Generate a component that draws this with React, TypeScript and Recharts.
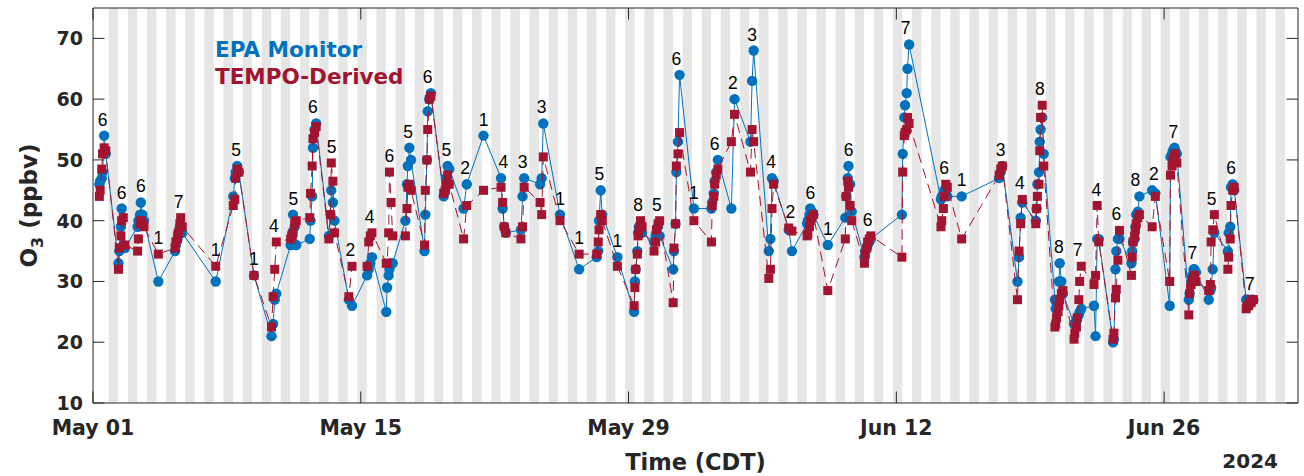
import React from "react";
import { ComposedChart, Scatter, XAxis, YAxis, ReferenceArea, ReferenceLine } from "recharts";

const BLUE = "#0072BD";
const RED = "#A2142F";
const INK = "#262626";
const BOLD_FONT = "'DejaVu Sans', Verdana, sans-serif";
const PLAIN_FONT = "'Liberation Sans', Arial, sans-serif";

// days since May 01 2024 00:00 CDT that have paired observations
const obsDays = [
  0, 1, 2, 3, 4, 6, 7, 8, 9, 10, 11, 12, 13, 14, 15, 16, 17, 18, 19, 20, 21, 22, 23, 24, 25, 26, 27, 28, 29, 30,
  31, 32, 33, 34, 35, 36, 37, 38, 39, 40, 42, 44, 45, 47, 48, 49, 50, 51, 52, 53, 54, 55, 56, 57, 58, 59, 60,
];

// EPA monitor O3 (ppbv), one list per observation day
const epaByDay = [
  [46, 46.5, 47, 48, 54, 51], [33, 35, 39, 42, 36, 35.5], [39, 40, 41, 43, 41, 40], [30],
  [35, 36, 37, 38, 39, 38.5, 38], [30], [44, 47, 48, 49, 48], [31], [21, 23, 27, 28],
  [36, 38, 41, 39, 36], [37, 40, 44, 52, 55, 56], [37.5, 41, 45, 43, 40], [27, 26], [31, 32, 33, 34],
  [25, 29, 31, 32, 33, 33], [40, 46, 49, 52, 50], [35, 41, 50, 58, 60, 61], [44, 45, 47, 49, 48.5],
  [42, 46], [54], [47, 42, 39, 38], [38.5, 44, 47], [46, 47, 56], [41], [32], [34, 35, 40, 45, 41], [34],
  [25, 30, 32, 35, 38, 39, 39.5, 38], [36.5, 37.5, 38, 39, 37.5], [32, 35, 39.5, 48, 53, 64], [42],
  [42, 43, 44.5, 46.5, 48, 50], [42, 60], [53, 63, 68], [35, 37, 47, 46.5], [38.5, 35],
  [39.5, 40, 41, 42, 41.5, 41], [36], [40.5, 44, 47, 49, 46, 41.5], [34, 35, 35.5, 36, 36.5, 37],
  [41, 51, 57, 59, 61, 65, 69], [43.5, 44, 44.5, 45, 44.5, 44], [44], [47, 48, 49], [30, 34, 40.5, 43],
  [40, 42, 46, 48, 53, 55, 57, 51], [27, 25.5, 26.5, 27, 30, 33, 30, 28], [23, 23, 23.5, 24, 24.5, 25, 25.5],
  [26, 21, 37, 37], [20, 20.5, 32, 35, 37, 37], [33, 35, 36.5, 37, 39, 41, 41.5, 44], [45, 44.5],
  [26, 50.5, 51, 51.5, 52, 51.5, 51], [27, 28, 30, 31, 32, 32, 31.5], [27, 28.5, 29, 32, 38],
  [35, 38, 39, 45.5, 46, 45], [27, 27, 27, 26.5, 26.5, 27, 27],
];

// TEMPO-derived O3 (ppbv), same days and hours
const tempoByDay = [
  [44, 45, 48.5, 51, 52, 51.5], [32, 35.5, 37.5, 40, 40.5, 36], [35, 37, 39.5, 40, 39.5, 39], [34.5],
  [35.5, 36.5, 37, 38, 39.5, 40.5, 39], [32.5], [42.5, 43.5, 47, 48.5, 48], [31], [22.5, 27.5, 32, 36.5],
  [37, 37.5, 38, 39.5, 40], [40.5, 44.5, 49, 53.5, 54.5, 55.5], [37, 41, 49.5, 46.5, 38], [27.5, 32.5],
  [32.5, 36.5, 37.5, 38], [33, 33, 38, 48, 43, 37.5], [37.5, 42, 45.5, 46, 45], [36, 45, 50, 55, 60, 60.5],
  [44.5, 45, 46, 47.5, 46], [37, 42.5], [45], [45.5, 43, 39, 38], [37, 39, 45.5], [43, 41, 50.5], [40],
  [34.5], [34.5, 36.5, 38.5, 41, 40], [32.5], [26, 29, 32, 34.5, 37.5, 38.5, 40, 39],
  [35, 36.5, 38.5, 39.5, 40], [26.5, 35.5, 39.5, 49, 51, 54.5], [40], [36.5, 42.5, 44, 46, 47.5, 48.5],
  [53, 57.5], [48, 55, 53], [30.5, 32, 42, 46], [38.8, 38.3], [37.5, 37.8, 39, 40, 40.5, 41], [28.5],
  [37, 44, 46.5, 45.5, 42.5, 40], [33, 34.5, 35.5, 36.5, 37, 37.5], [34, 48, 54, 54.5, 55, 57, 56],
  [39, 40, 42, 44, 46, 45.5], [37], [47.5, 48.5, 49], [27, 35, 39.5, 43.5], [39.5, 42, 44, 46, 51.5, 57, 59, 49],
  [22.5, 23, 24, 25, 26, 27, 28, 28.5], [20.5, 21.5, 22.5, 24, 27, 30, 32.5], [29.5, 31, 42.5, 36.5],
  [20.5, 21.5, 27.3, 28.7, 33.5, 38.4], [31, 34, 36.5, 37.5, 38.5, 39.5, 40.5, 41], [39, 44],
  [30, 47.5, 49, 50, 50.5, 51, 49.5], [24.5, 28, 29.5, 30, 30.5, 31, 30], [28.5, 29.5, 36.5, 38.5, 41],
  [32, 34, 37, 42.5, 45, 45.5], [25.5, 26, 26, 26.5, 26.5, 27, 27],
];

// overpass hours (CDT) by number of observations in the day
const hoursByCount: Record<number, number[]> = {
  1: [10],
  2: [9, 13],
  3: [9, 11, 13],
  4: [8, 10, 12, 14],
  5: [8, 10, 11, 13, 15],
  6: [8, 9, 11, 12, 14, 16],
  7: [7, 8, 10, 11, 13, 14, 16],
  8: [7, 8, 9, 11, 12, 13, 15, 17],
};

const xTicks = [0, 14, 28, 42, 56];
const xTickLabels = ["May 01", "May 15", "May 29", "Jun 12", "Jun 26"];
const yTicks = [10, 20, 30, 40, 50, 60, 70];

const X_MAX = 63;
const Y_MIN = 10;
const Y_MAX = 75;
const SUNSET_H = 19.7;
const SUNRISE_H = 7.6;
const nights = Array.from({ length: 62 }, (_, k) => k);
const TICK_DX = 0.6;
const TICK_DY = 1.9;

const epaSeries: { t: number; v: number }[] = [];
const tempoSeries: { t: number; v: number }[] = [];
const countLabels: { t: number; v: number; n: number }[] = [];
obsDays.forEach((day, i) => {
  const e = epaByDay[i];
  const tp = tempoByDay[i];
  const hrs = hoursByCount[e.length];
  e.forEach((v, j) => epaSeries.push({ t: day + hrs[j] / 24, v }));
  tp.forEach((v, j) => tempoSeries.push({ t: day + hrs[j] / 24, v }));
  countLabels.push({
    t: day + (hrs[0] + hrs[hrs.length - 1]) / 48,
    v: Math.max(...e, ...tp),
    n: e.length,
  });
});

function XTick(props: any) {
  const { x, y, payload } = props;
  return (
    <text x={x} y={y + 32} textAnchor="middle" fontFamily={BOLD_FONT} fontWeight="bold" fontSize={20.5} fill={INK}>
      {xTickLabels[xTicks.indexOf(payload.value)]}
    </text>
  );
}

function YTick(props: any) {
  const { x, y, payload } = props;
  return (
    <text x={x} y={y} dy="0.36em" textAnchor="end" fontFamily={BOLD_FONT} fontWeight="bold" fontSize={19} fill={INK}>
      {payload.value}
    </text>
  );
}

function XLabel(props: any) {
  const { x, y, width } = props.viewBox;
  return (
    <g fontFamily={BOLD_FONT} fontWeight="bold" fill={INK}>
      <text x={x + width / 2} y={y + 67} textAnchor="middle" fontSize={22.5}>
        Time (CDT)
      </text>
      <text x={x + width - 20} y={y + 65} textAnchor="end" fontSize={20}>
        2024
      </text>
    </g>
  );
}

function YLabel(props: any) {
  const { y, height } = props.viewBox;
  const cy = y + height / 2;
  return (
    <text
      x={37}
      y={cy}
      transform={`rotate(-90, 37, ${cy})`}
      textAnchor="middle"
      fontFamily={BOLD_FONT}
      fontWeight="bold"
      fontSize={23}
      fill={INK}
    >
      <tspan>O</tspan>
      <tspan dy={6} fontSize={16}>3</tspan>
      <tspan dy={-6}> (ppbv)</tspan>
    </text>
  );
}

const circle = (p: any) => <circle cx={p.cx} cy={p.cy} r={5.2} fill={BLUE} />;
const square = (p: any) => <rect x={p.cx - 4.5} y={p.cy - 4.5} width={9} height={9} fill={RED} />;
const countText = (p: any) => (
  <text x={p.cx} y={p.cy - 10} textAnchor="middle" fontFamily={PLAIN_FONT} fontSize={17.5} fill="#000">
    {p.payload.n}
  </text>
);

export default function App() {
  return (
    <div style={{ position: "absolute", left: 0, top: 0, width: 1304, height: 476, background: "#fff" }}>
      <ComposedChart width={1304} height={476} margin={{ top: 8, right: 6, bottom: 0, left: 0 }}>
        <XAxis
          type="number"
          dataKey="t"
          domain={[0, X_MAX]}
          ticks={xTicks}
          interval={0}
          allowDataOverflow
          height={73}
          axisLine={false}
          tickLine={false}
          tickSize={0}
          tickMargin={0}
          tick={<XTick />}
          label={<XLabel />}
        />
        <YAxis
          type="number"
          dataKey="v"
          domain={[Y_MIN, Y_MAX]}
          ticks={yTicks}
          interval={0}
          allowDataOverflow
          width={93}
          axisLine={false}
          tickLine={false}
          tickSize={0}
          tickMargin={10}
          tick={<YTick />}
          label={<YLabel />}
        />
        {nights.map((k) => (
          <ReferenceArea
            key={`n${k}`}
            x1={k + SUNSET_H / 24}
            x2={Math.min(k + 1 + SUNRISE_H / 24, X_MAX)}
            y1={Y_MIN}
            y2={Y_MAX}
            fill="#e6e6e6"
            fillOpacity={1}
            stroke="none"
            ifOverflow="hidden"
          />
        ))}
        <Scatter
          data={epaSeries}
          line={{ stroke: BLUE, strokeWidth: 1, fill: "none" }}
          lineType="joint"
          shape={circle}
          isAnimationActive={false}
        />
        <Scatter
          data={tempoSeries}
          line={{ stroke: RED, strokeWidth: 1, strokeDasharray: "10 6", fill: "none" }}
          lineType="joint"
          shape={square}
          isAnimationActive={false}
        />
        <Scatter data={countLabels} shape={countText} isAnimationActive={false} />
        <ReferenceArea x1={0} x2={X_MAX} y1={Y_MIN} y2={Y_MAX} fill="none" stroke={INK} strokeWidth={1} />
        {yTicks.map((v) => (
          <ReferenceLine key={`yl${v}`} segment={[{ x: 0, y: v }, { x: TICK_DX, y: v }]} stroke={INK} />
        ))}
        {yTicks.map((v) => (
          <ReferenceLine key={`yr${v}`} segment={[{ x: X_MAX - TICK_DX, y: v }, { x: X_MAX, y: v }]} stroke={INK} />
        ))}
        {xTicks.map((t) => (
          <ReferenceLine key={`xb${t}`} segment={[{ x: t, y: Y_MIN }, { x: t, y: Y_MIN + TICK_DY }]} stroke={INK} />
        ))}
        {xTicks.map((t) => (
          <ReferenceLine key={`xt${t}`} segment={[{ x: t, y: Y_MAX - TICK_DY }, { x: t, y: Y_MAX }]} stroke={INK} />
        ))}
      </ComposedChart>
      <svg width={1304} height={476} style={{ position: "absolute", left: 0, top: 0, pointerEvents: "none" }}>
        <g fontFamily={BOLD_FONT} fontWeight="bold" fontSize={21.5}>
          <text x={215} y={57} fill={BLUE}>
            EPA Monitor
          </text>
          <text x={215} y={83.5} fill={RED}>
            TEMPO-Derived
          </text>
        </g>
      </svg>
    </div>
  );
}
